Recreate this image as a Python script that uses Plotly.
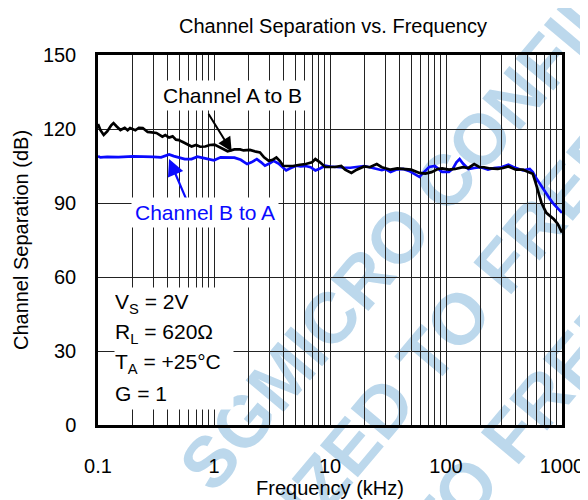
import math
import plotly.graph_objects as go

# ---------------- data ----------------
freq_a_khz = [0.1, 0.105, 0.112, 0.12, 0.13, 0.136, 0.145, 0.156, 0.17, 0.18, 0.189, 0.21, 0.225,
              0.243, 0.268, 0.29, 0.319, 0.359, 0.38, 0.41, 0.44, 0.47, 0.5, 0.528, 0.58, 0.641,
              0.7, 0.76, 0.84, 0.92, 1.01, 1.14, 1.31, 1.5, 1.68, 1.8, 2.04, 2.3, 2.49, 2.7, 2.96,
              3.2, 3.45, 3.7, 3.95, 4.3, 4.8, 5.5, 6.17, 7.0, 7.48, 8.2, 9.07, 11, 12.5, 13.5,
              15.3, 17, 19.7, 22, 25.3, 28, 33.3, 38, 42.7, 50, 59, 66.3, 75, 85, 92.4, 106, 120,
              140, 156, 175, 195, 213, 240, 279, 310, 345, 400, 461, 500, 527, 559, 590, 615, 666,
              733, 800, 852, 920, 1000]
sep_a_db = [122, 119.5, 117.6, 119, 121.5, 122.4, 121, 119.6, 120.5, 119.5, 120.4, 119.5, 120.5,
            120.4, 118.8, 118.6, 118.4, 116.9, 117.5, 116.5, 117, 115.7, 115.5, 114.9, 114, 112.9,
            113.5, 112.8, 112.9, 113.5, 113.7, 112.5, 111, 111.7, 111.7, 111.3, 111.5, 110.8, 110.5,
            108.5, 107.1, 107.5, 108.5, 107, 105.1, 105, 105, 105.5, 105.8, 106.5, 107.8, 106.5,
            104.6, 104.6, 105, 103.5, 102.2, 103.5, 104.8, 104.5, 105.8, 104.5, 103.5, 104, 103.8,
            103.5, 102.2, 101.9, 102.5, 103.8, 104, 103.5, 103.8, 104.5, 104.2, 105.8, 104.5, 104.5,
            104, 103.8, 104.2, 104.8, 103.5, 103.5, 102.8, 102.5, 101.9, 98.5, 95.3, 90, 86, 84.5,
            83.4, 81.5, 78]

freq_b_khz = [0.1, 0.105, 0.12, 0.15, 0.2, 0.25, 0.3, 0.35, 0.41, 0.45, 0.5, 0.56, 0.64, 0.72,
              0.8, 0.9, 1.0, 1.14, 1.3, 1.5, 1.7, 1.93, 2.1, 2.34, 2.55, 2.75, 3.0, 3.26, 3.6,
              4.19, 4.5, 5.11, 5.6, 6.17, 6.8, 7.48, 8.2, 9.07, 10, 11, 13, 15, 17, 19.7, 22, 25,
              28, 30, 33.3, 37, 42.7, 48, 55, 59, 63, 71.6, 80, 92.4, 106, 115, 123, 131, 140, 156,
              175, 200, 230, 260, 300, 345, 380, 420, 461, 527, 560, 600, 640, 700, 777, 850, 920,
              1000]
sep_b_db = [109, 108.5, 108.7, 108.6, 108.9, 108.9, 108.7, 108.5, 109.7, 109, 108.3, 107.8, 107.8,
            108.8, 108.3, 107.8, 107.3, 108.5, 108.5, 108.4, 107.5, 105.8, 106.5, 107.8, 106.5,
            105.1, 106, 107.1, 106, 103.2, 104, 105.1, 104.8, 105, 104.5, 103.2, 104, 105.1, 104.8,
            104.6, 104.4, 104.3, 104.6, 105, 104.5, 104, 103.3, 103.8, 102.6, 103.5, 103.8, 103,
            101.5, 100.6, 102, 104.6, 105, 102.6, 102.6, 104, 106.5, 107.8, 106, 103.8, 104.2,
            104.5, 103.5, 104.2, 104.5, 105.5, 104.6, 103.8, 103.2, 103.8, 102.5, 100, 97.9, 95,
            92, 89.5, 87.8, 86]

y_ticks = [0, 30, 60, 90, 120, 150]
x_decades = [0.1, 1, 10, 100, 1000]
x_decade_labels = ["0.1", "1", "10", "100", "1000"]

conditions = ["V<sub>S</sub> = 2V", "R<sub>L</sub> = 620Ω", "T<sub>A</sub> = +25°C", "G = 1"]

# ---------------- layout geometry (pixels) ----------------
W, H = 588, 500
ML, MR, MT, MB = 87, 25, 47, 72
PW, PH = W - ML - MR, H - MT - MB

def px_to_paper(px, py):
    return (px - ML) / PW, (H - MB - py) / PH

# x grid values: every 1..9 multiple within the decades
x_grid_vals, x_grid_text = [], []
for d in x_decades[:-1]:
    for k in range(1, 10):
        v = round(d * k, 6)
        x_grid_vals.append(v)
        x_grid_text.append(x_decade_labels[x_decades.index(d)] if k == 1 else "")
x_grid_vals.append(x_decades[-1])
x_grid_text.append(x_decade_labels[-1])

FONT = "Liberation Sans, Arial, sans-serif"
BLUE = "#0a0aff"

fig = go.Figure()
fig.add_trace(go.Scatter(x=freq_b_khz, y=sep_b_db, mode="lines",
                         line=dict(color=BLUE, width=2.7), name="Channel B to A",
                         showlegend=False))
fig.add_trace(go.Scatter(x=freq_a_khz, y=sep_a_db, mode="lines",
                         line=dict(color="black", width=2.7), name="Channel A to B",
                         showlegend=False))

# ---------------- watermark (shape labels drawn below the grid) ----------------
WM_COLOR = "#bcd8ec"
WM_SIZE = 72
WM_ANGLE = 50.0
CW = {'A': .722, 'B': .722, 'C': .722, 'D': .722, 'E': .667, 'F': .611, 'G': .778, 'H': .722,
      'I': .278, 'J': .556, 'K': .722, 'L': .611, 'M': .833, 'N': .722, 'O': .778, 'P': .667,
      'Q': .778, 'R': .722, 'S': .667, 'T': .611, 'U': .722, 'V': .667, 'W': .944, 'X': .667,
      'Y': .667, 'Z': .611, ' ': .278}

def watermark(text, idx, cx, cy):
    ws = [CW[c] * WM_SIZE for c in text]
    total = sum(ws)
    char_pos = sum(ws[:idx]) + ws[idx] / 2
    delta = total / 2 - char_pos
    ux, uy = math.cos(math.radians(WM_ANGLE)), -math.sin(math.radians(WM_ANGLE))
    mx, my = cx + ux * delta, cy + uy * delta
    L = total / 2
    x0, y0 = px_to_paper(mx - ux * L, my - uy * L)
    x1, y1 = px_to_paper(mx + ux * L, my + uy * L)
    fig.add_shape(type="line", xref="paper", yref="paper", x0=x0, y0=y0, x1=x1, y1=y1,
                  line=dict(width=0, color="rgba(0,0,0,0)"), layer="below",
                  label=dict(text=text, textposition="middle", textangle=-WM_ANGLE,
                             font=dict(family=FONT, size=WM_SIZE, color=WM_COLOR, weight="bold")))

watermark("SGMICRO CONFIDENTIAL", 8, 470, 200)
watermark("AUTHORIZED TO FREE", 11, 448, 385)
watermark("AUTHORIZED TO FREE", 14, 533, 468)

# ---------------- annotations ----------------
ann = []
ann.append(dict(x=math.log10(1.42), y=110.9, xref="x", yref="y", text="", showarrow=True,
                arrowhead=2, arrowsize=1.4, arrowwidth=2, arrowcolor="black", ax=-24, ay=-39))
ann.append(dict(x=math.log10(0.41), y=107.8, xref="x", yref="y", text="", showarrow=True,
                arrowhead=2, arrowsize=1.5, arrowwidth=2.2, arrowcolor=BLUE, ax=18, ay=42))
xa, ya = px_to_paper(225, 89)
ann.append(dict(x=xa, y=ya, xref="paper", yref="paper", text="Channel A to B", showarrow=False,
                xanchor="center", yanchor="middle",
                font=dict(family=FONT, size=21, color="black"), bgcolor="white", borderpad=3))
xb, yb = px_to_paper(197, 209)
ann.append(dict(x=xb, y=yb, xref="paper", yref="paper", text="Channel B to A", showarrow=False,
                xanchor="center", yanchor="middle",
                font=dict(family=FONT, size=21, color=BLUE), bgcolor="white", borderpad=3))
for i, t in enumerate(conditions):
    xc, yc = px_to_paper(103, 303 + i * 31)
    ann.append(dict(x=xc, y=yc, xref="paper", yref="paper", text=t, showarrow=False,
                    xanchor="left", yanchor="middle", align="left", width=118, height=31,
                    font=dict(family=FONT, size=21, color="black"), bgcolor="white", borderpad=0))

fig.update_layout(
    width=W, height=H,
    margin=dict(l=ML, r=MR, t=MT, b=MB),
    paper_bgcolor="white", plot_bgcolor="rgba(0,0,0,0)",
    title=dict(text="Channel Separation vs. Frequency", x=(ML + PW / 2) / W, xanchor="center",
               y=1 - 18 / H, yanchor="middle", yref="container",
               font=dict(family=FONT, size=20, color="black")),
    annotations=ann,
    font=dict(family=FONT, color="black"),
)
fig.update_xaxes(type="log", range=[-1, 3], tickvals=x_grid_vals, ticktext=x_grid_text,
                 showgrid=True, gridcolor="#222", gridwidth=1, ticks="",
                 showline=True, linecolor="black", linewidth=2.5, mirror=True, zeroline=False,
                 tickfont=dict(family=FONT, size=20, color="black"), ticklabelstandoff=21,
                 title=dict(text="Frequency (kHz)", standoff=5,
                            font=dict(family=FONT, size=20, color="black")))
fig.update_yaxes(range=[0, 150], tickvals=y_ticks, showgrid=True, gridcolor="#222", gridwidth=1,
                 ticks="", showline=True, linecolor="black", linewidth=2.5, mirror=True,
                 zeroline=False, tickfont=dict(family=FONT, size=20, color="black"),
                 ticklabelstandoff=15,
                 title=dict(text="Channel Separation (dB)" + "\u00a0" * 4, standoff=9,
                            font=dict(family=FONT, size=20, color="black")))

fig.write_html("out.html")
